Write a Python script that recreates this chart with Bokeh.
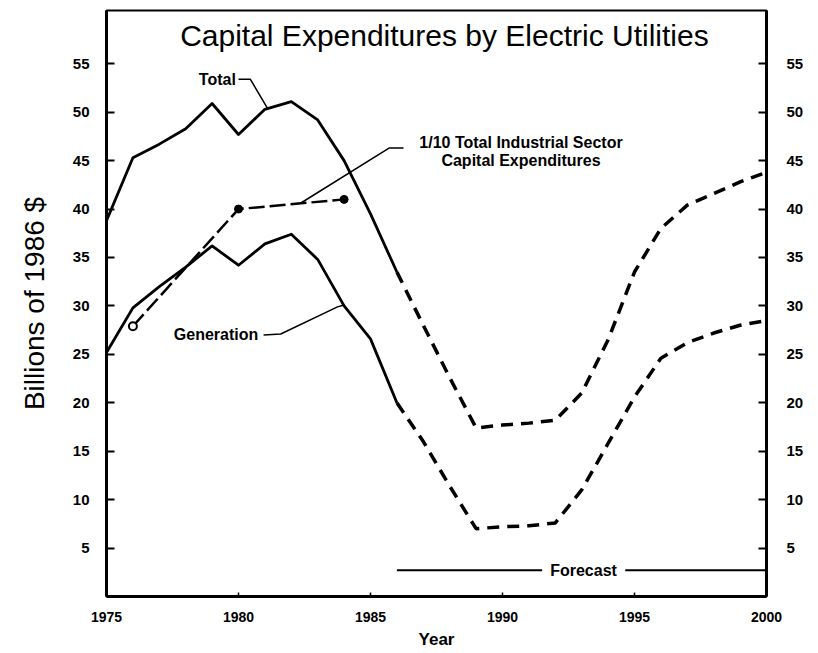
from bokeh.plotting import figure
from bokeh.models import LinearAxis, FixedTicker, Label, Range1d
from bokeh.embed import file_html
from bokeh.resources import INLINE

# ---- data (billions of 1986 $) ----
years_hist = [1975, 1976, 1977, 1978, 1979, 1980, 1981, 1982, 1983, 1984, 1985, 1986]
total_hist = [38.8, 45.3, 46.7, 48.3, 50.9, 47.7, 50.3, 51.1, 49.2, 45.0, 39.5, 33.5]
gen_hist = [25.2, 29.8, 32.0, 34.0, 36.2, 34.2, 36.4, 37.4, 34.8, 30.0, 26.6, 20.0]

years_fc = [1986, 1987, 1988, 1989, 1990, 1991, 1992, 1993, 1994, 1995, 1996, 1997, 1998, 1999, 2000]
total_fc = [33.5, 28.0, 22.6, 17.4, 17.7, 17.9, 18.2, 21.0, 26.5, 33.5, 38.0, 40.4, 41.6, 42.8, 43.8]
gen_fc = [20.0, 16.0, 11.4, 7.0, 7.2, 7.3, 7.6, 11.0, 15.8, 20.6, 24.6, 26.2, 27.2, 28.0, 28.5]

ind_years = [1976, 1980, 1984]
ind_vals = [27.9, 40.0, 41.0]

x_ticks = [1975, 1980, 1985, 1990, 1995, 2000]
y_ticks = [5, 10, 15, 20, 25, 30, 35, 40, 45, 50, 55]

FONT = "Liberation Sans"

p = figure(width=816, height=651,
           x_range=Range1d(1975, 2000), y_range=Range1d(0, 60.5),
           output_backend="svg", toolbar_location=None,
           min_border_left=106, min_border_right=50,
           min_border_top=10, min_border_bottom=52)
p.xgrid.visible = False
p.ygrid.visible = False
p.outline_line_color = "black"
p.outline_line_width = 2
p.background_fill_color = "white"
p.border_fill_color = "white"

# bottom axis
xa = p.xaxis[0]
xa.ticker = FixedTicker(ticks=x_ticks)
xa.major_tick_in = 4
xa.major_tick_out = 0
xa.minor_tick_line_color = None
xa.axis_line_width = 3
xa.major_tick_line_width = 1.5
xa.major_label_standoff = 15
xa.major_label_text_font = FONT
xa.major_label_text_font_style = "bold"
xa.major_label_text_font_size = "14px"
xa.major_label_text_color = "black"
xa.axis_label = "Year"
xa.axis_label_text_font = FONT
xa.axis_label_text_font_style = "bold"
xa.axis_label_text_font_size = "17px"
xa.axis_label_text_color = "black"
xa.axis_label_standoff = 5

# left axis
ya = p.yaxis[0]
ya.ticker = FixedTicker(ticks=y_ticks)
ya.major_tick_in = 8
ya.major_tick_out = 0
ya.major_tick_line_width = 2
ya.minor_tick_line_color = None
ya.axis_line_width = 3
ya.major_label_standoff = 17
ya.major_label_text_font = FONT
ya.major_label_text_font_style = "bold"
ya.major_label_text_font_size = "15px"
ya.major_label_text_color = "black"
ya.axis_label = "Billions of 1986 $"
ya.axis_label_text_font = FONT
ya.axis_label_text_font_style = "normal"
ya.axis_label_text_font_size = "28px"
ya.axis_label_text_color = "black"
ya.axis_label_standoff = 20

# right axis
ra = LinearAxis(ticker=FixedTicker(ticks=y_ticks))
ra.major_tick_in = 8
ra.major_tick_out = 0
ra.major_tick_line_width = 2
ra.minor_tick_line_color = None
ra.axis_line_width = 3
ra.major_label_standoff = 20
ra.major_label_text_font = FONT
ra.major_label_text_font_style = "bold"
ra.major_label_text_font_size = "15px"
ra.major_label_text_color = "black"
p.add_layout(ra, "right")

# ---- series ----
p.line(years_hist, total_hist, line_color="black", line_width=2.8, line_join="round")
p.line(years_hist, gen_hist, line_color="black", line_width=2.8, line_join="round")
p.line(years_fc, total_fc, line_color="black", line_width=3.5, line_dash="12 8")
p.line(years_fc, gen_fc, line_color="black", line_width=3.5, line_dash="12 8")

p.line(ind_years, ind_vals, line_color="black", line_width=2.5, line_dash="16 5")
p.scatter(ind_years[1:], ind_vals[1:], size=8, marker="circle",
          fill_color="black", line_color="black")
p.scatter(ind_years[:1], ind_vals[:1], size=8, marker="circle",
          fill_color="white", line_color="black", line_width=2)

# ---- annotations ----
def lab(x, y, text, size, bold=True, align="center"):
    p.add_layout(Label(x=x, y=y, text=text, text_font=FONT,
                       text_font_size=size,
                       text_font_style="bold" if bold else "normal",
                       text_align=align, text_baseline="middle",
                       text_color="black"))

lab(1987.8, 57.9, "Capital Expenditures by Electric Utilities", "30px", bold=False)

# Total label + leader
lab(1979.9, 53.4, "Total", "16px", align="right")
p.line([1980.0, 1980.45, 1981.1], [53.4, 53.4, 50.4], line_color="black", line_width=1.5)

# Generation label + leader
lab(1980.75, 27.0, "Generation", "16px", align="right")
p.line([1980.95, 1981.6, 1983.75, 1984.0], [27.0, 27.1, 29.9, 30.1],
       line_color="black", line_width=1.5)

# Industrial label + leader
lab(1990.7, 46.9, "1/10 Total Industrial Sector", "16px")
lab(1990.7, 45.05, "Capital Expenditures", "16px")
p.line([1986.25, 1985.7, 1982.35], [46.3, 46.3, 40.6], line_color="black", line_width=1.5)

# Forecast bracket
lab(1993.07, 2.7, "Forecast", "16px")
p.line([1986.0, 1991.5], [2.7, 2.7], line_color="black", line_width=2)
p.line([1994.65, 2000.0], [2.7, 2.7], line_color="black", line_width=2)

open("out.html", "w").write(file_html(p, INLINE))
